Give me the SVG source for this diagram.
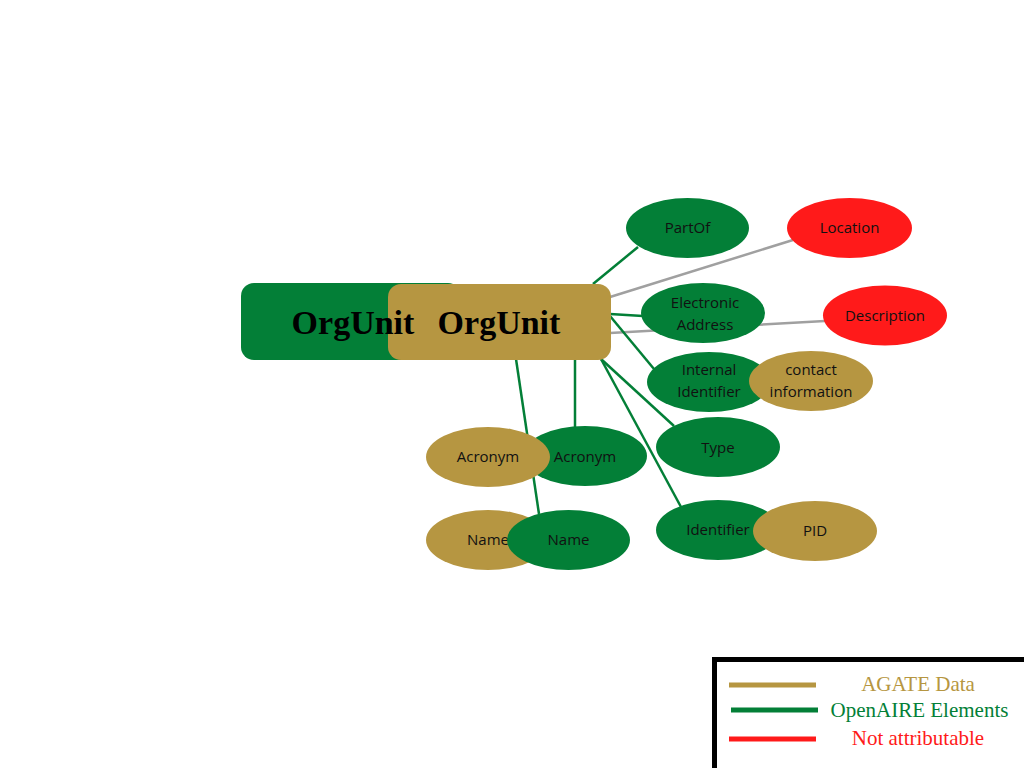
<svg xmlns="http://www.w3.org/2000/svg" width="1024" height="768" viewBox="0 0 1024 768">
<style>
.g{fill:#037f37}
.a{fill:#b69641}
.r{fill:#ff1a1a}
.t{font-family:"Open Sans","Liberation Sans",sans-serif;font-size:15px;fill:#111;text-anchor:middle}
.h{font-family:"Liberation Serif","DejaVu Serif",serif;font-size:34px;font-weight:bold;fill:#000;text-anchor:middle}
.lg{font-family:"Liberation Serif","DejaVu Serif",serif;font-size:21px;text-anchor:middle}
.cg{stroke:#037f37;stroke-width:2.5;fill:none}
.cx{stroke:#a0a0a0;stroke-width:2.5;fill:none}
</style>
<rect width="1024" height="768" fill="#fff"/>
<g id="connectors">
<line class="cg" x1="593" y1="284" x2="638" y2="247"/>
<line class="cx" x1="610" y1="297" x2="793" y2="240"/>
<line class="cg" x1="610" y1="314" x2="643" y2="316"/>
<line class="cx" x1="610" y1="333" x2="825" y2="321"/>
<line class="cg" x1="610" y1="316" x2="654" y2="369"/>
<line class="cg" x1="601" y1="359" x2="674" y2="426"/>
<line class="cg" x1="601" y1="359" x2="681" y2="507"/>
<line class="cg" x1="575" y1="359" x2="575" y2="427"/>
<line class="cg" x1="516" y1="359" x2="539" y2="514"/>
</g>
<g id="orgunit-green"><rect class="g" x="241" y="283" width="220" height="77" rx="13"/></g>
<g id="orgunit-gold"><rect class="a" x="388" y="284" width="223" height="76" rx="13"/><text class="h" x="499" y="334">OrgUnit</text></g>
<g id="orgunit-green-label"><text class="h" x="353" y="334">OrgUnit</text></g>
<g id="partof"><ellipse class="g" cx="687.5" cy="228" rx="61.5" ry="30"/><text class="t" x="687.5" y="233">PartOf</text></g>
<g id="location"><ellipse class="r" cx="849.5" cy="228" rx="62.5" ry="30"/><text class="t" x="849.5" y="233">Location</text></g>
<g id="electronic-address"><ellipse class="g" cx="703" cy="313" rx="62" ry="30"/><text class="t" x="705" y="308">Electronic</text><text class="t" x="705" y="330">Address</text></g>
<g id="description"><ellipse class="r" cx="885" cy="315.5" rx="62" ry="30"/><text class="t" x="885" y="320.5">Description</text></g>
<g id="internal-identifier"><ellipse class="g" cx="709" cy="382" rx="62" ry="30"/><text class="t" x="709" y="375">Internal</text><text class="t" x="709" y="397">Identifier</text></g>
<g id="contact-information"><ellipse class="a" cx="811" cy="381" rx="62" ry="30"/><text class="t" x="811" y="375">contact</text><text class="t" x="811" y="397">information</text></g>
<g id="type"><ellipse class="g" cx="718" cy="447" rx="62" ry="30"/><text class="t" x="718" y="453">Type</text></g>
<g id="acronym-green"><ellipse class="g" cx="585" cy="456" rx="62" ry="30"/><text class="t" x="585" y="462">Acronym</text></g>
<g id="acronym-gold"><ellipse class="a" cx="488" cy="457" rx="62" ry="30"/><text class="t" x="488" y="462">Acronym</text></g>
<g id="name-gold"><ellipse class="a" cx="488" cy="540" rx="62" ry="30"/><text class="t" x="488" y="545">Name</text></g>
<g id="name-green"><ellipse class="g" cx="568.5" cy="540" rx="61.5" ry="30"/><text class="t" x="568.5" y="545">Name</text></g>
<g id="identifier"><ellipse class="g" cx="718" cy="530" rx="62" ry="30"/><text class="t" x="718" y="535">Identifier</text></g>
<g id="pid"><ellipse class="a" cx="815" cy="531" rx="62" ry="30"/><text class="t" x="815" y="536">PID</text></g>
<g id="legend">
<rect x="714.5" y="659.5" width="320" height="120" fill="#fff" stroke="#000" stroke-width="5"/>
<line x1="729" y1="685" x2="816" y2="685" stroke="#b69641" stroke-width="5"/>
<line x1="731" y1="710" x2="818" y2="710" stroke="#037f37" stroke-width="5"/>
<line x1="729" y1="739" x2="816" y2="739" stroke="#ff1a1a" stroke-width="5"/>
<text class="lg" x="918" y="691" fill="#b69641">AGATE Data</text>
<text class="lg" x="919.5" y="717" fill="#037f37">OpenAIRE Elements</text>
<text class="lg" x="918" y="745" fill="#ff1a1a">Not attributable</text>
</g>
</svg>
